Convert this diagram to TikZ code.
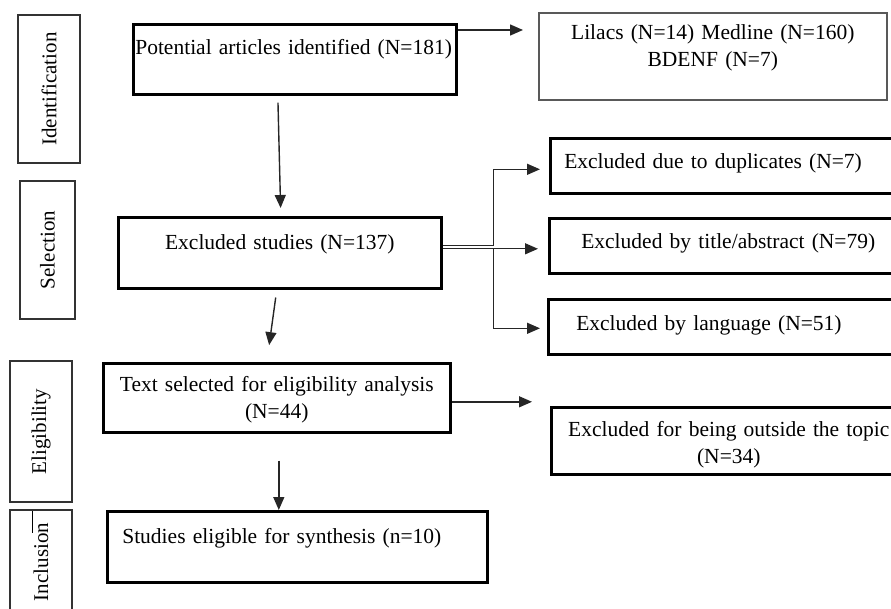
\documentclass[tikz,border=0pt]{standalone}
\usepackage{fontspec}
\setmainfont{Liberation Serif}
\usetikzlibrary{arrows.meta}

\tikzstyle{stage} = [draw=black!80, line width=1.4pt, rotate=90, inner sep=0pt,
  font=\fontsize{21}{26}\selectfont]
\tikzstyle{mainbox} = [draw=black, line width=2.6pt, anchor=north west,
  inner ysep=0pt, font=\fontsize{21.5}{27}\selectfont]
\tikzstyle{sourcebox} = [mainbox, draw=black!65, line width=1.6pt]
\tikzstyle{arr} = [-{Triangle[length=13pt,width=11pt]}, line width=1.4pt,
  draw=black!85]
\tikzstyle{link} = [line width=1.4pt, draw=black!85]

\begin{document}
\begin{tikzpicture}[x=1pt, y=-1pt]
        \useasboundingbox (0,0) rectangle (891,609);
        \clip (0,0) rectangle (891,609);

        % stages on the left
        \node [stage, minimum width=148, minimum height=62] (identif) at (49,89)    {Identification};
        \node [stage, minimum width=138, minimum height=55] (select)  at (47.5,250) {Selection};
        \node [stage, minimum width=141, minimum height=62] (elig)    at (41,431.5) {Eligibility};
        \node [stage, minimum width=104, minimum height=62] (incl)    at (41,562)   {Inclusion};
        \draw [line width=1pt] (32,511) -- (32,533);

        % main column
        \node [mainbox, inner xsep=2, text width=319, text height=30, text depth=40, align=left]
          (potential) at (132,23) {Potential articles identified (N=181)};
        \node [mainbox, inner xsep=5, text width=313, text height=32, text depth=39, align=center]
          (excluded)  at (117,216) {Excluded studies (N=137)};
        \node [mainbox, inner xsep=5, text width=337, text height=28, text depth=41, align=center]
          (textsel)   at (102,362) {Text selected for eligibility analysis\\(N=44)};
        \node [mainbox, inner xsep=15, text width=350, text height=32, text depth=39, align=left]
          (synth)     at (106,510) {Studies eligible for synthesis (n=10)};

        % right column
        \node [sourcebox, inner xsep=5, text width=338, text height=27, text depth=60, align=center]
          (sources)   at (538,12) {Lilacs (N=14) Medline (N=160)\\BDENF (N=7)};
        \node [mainbox, inner xsep=14, text width=332, text height=30, text depth=25, align=left]
          (dupl)      at (549,137) {Excluded due to duplicates (N=7)};
        \node [mainbox, inner xsep=32, text width=300, text height=30, text depth=25, align=left]
          (title)     at (548,217) {Excluded by title/abstract (N=79)};
        \node [mainbox, inner xsep=28, text width=310, text height=31, text depth=24, align=left]
          (lang)      at (547,298) {Excluded by language (N=51)};
        \node [mainbox, inner xsep=5, text width=345, text height=29, text depth=38, align=center]
          (outside)   at (550,406) {Excluded for being outside the topic\\(N=34)};

        % connectors
        \coordinate (p1) at ([yshift=-7pt]potential.north east);
        \draw [arr, shorten >=15pt] (p1) -- (p1 -| sources.west);
        \draw [arr, shorten <=7pt, shorten >=8pt] ([xshift=-17pt]potential.south) -- ([xshift=1pt]excluded.north);
        \draw [arr, shorten <=8pt, shorten >=17pt] ([xshift=-3pt]excluded.south) -- ([xshift=-10pt]textsel.north);
        \coordinate (p4) at ([xshift=2pt]textsel.south);
        \draw [arr, shorten <=27pt] (p4) -- (p4 |- synth.north);
        \coordinate (p5) at ([yshift=-4pt]textsel.east);
        \draw [arr, shorten >=18pt] (p5) -- (p5 -| outside.west);

        \coordinate (b1) at ([yshift=7.5pt]excluded.east);
        \coordinate (b2) at ([yshift=4pt]excluded.east);
        \draw [arr, shorten >=9pt] (b1) -- ([xshift=51pt]b1) |- ([yshift=-3.5pt]dupl.west);
        \draw [arr, shorten >=10pt] (b2) -- (b2 -| title.west);
        \draw [arr, shorten >=7pt] ([xshift=51pt]b2) |- ([yshift=-1.5pt]lang.west);
      \end{tikzpicture}
\end{document}
